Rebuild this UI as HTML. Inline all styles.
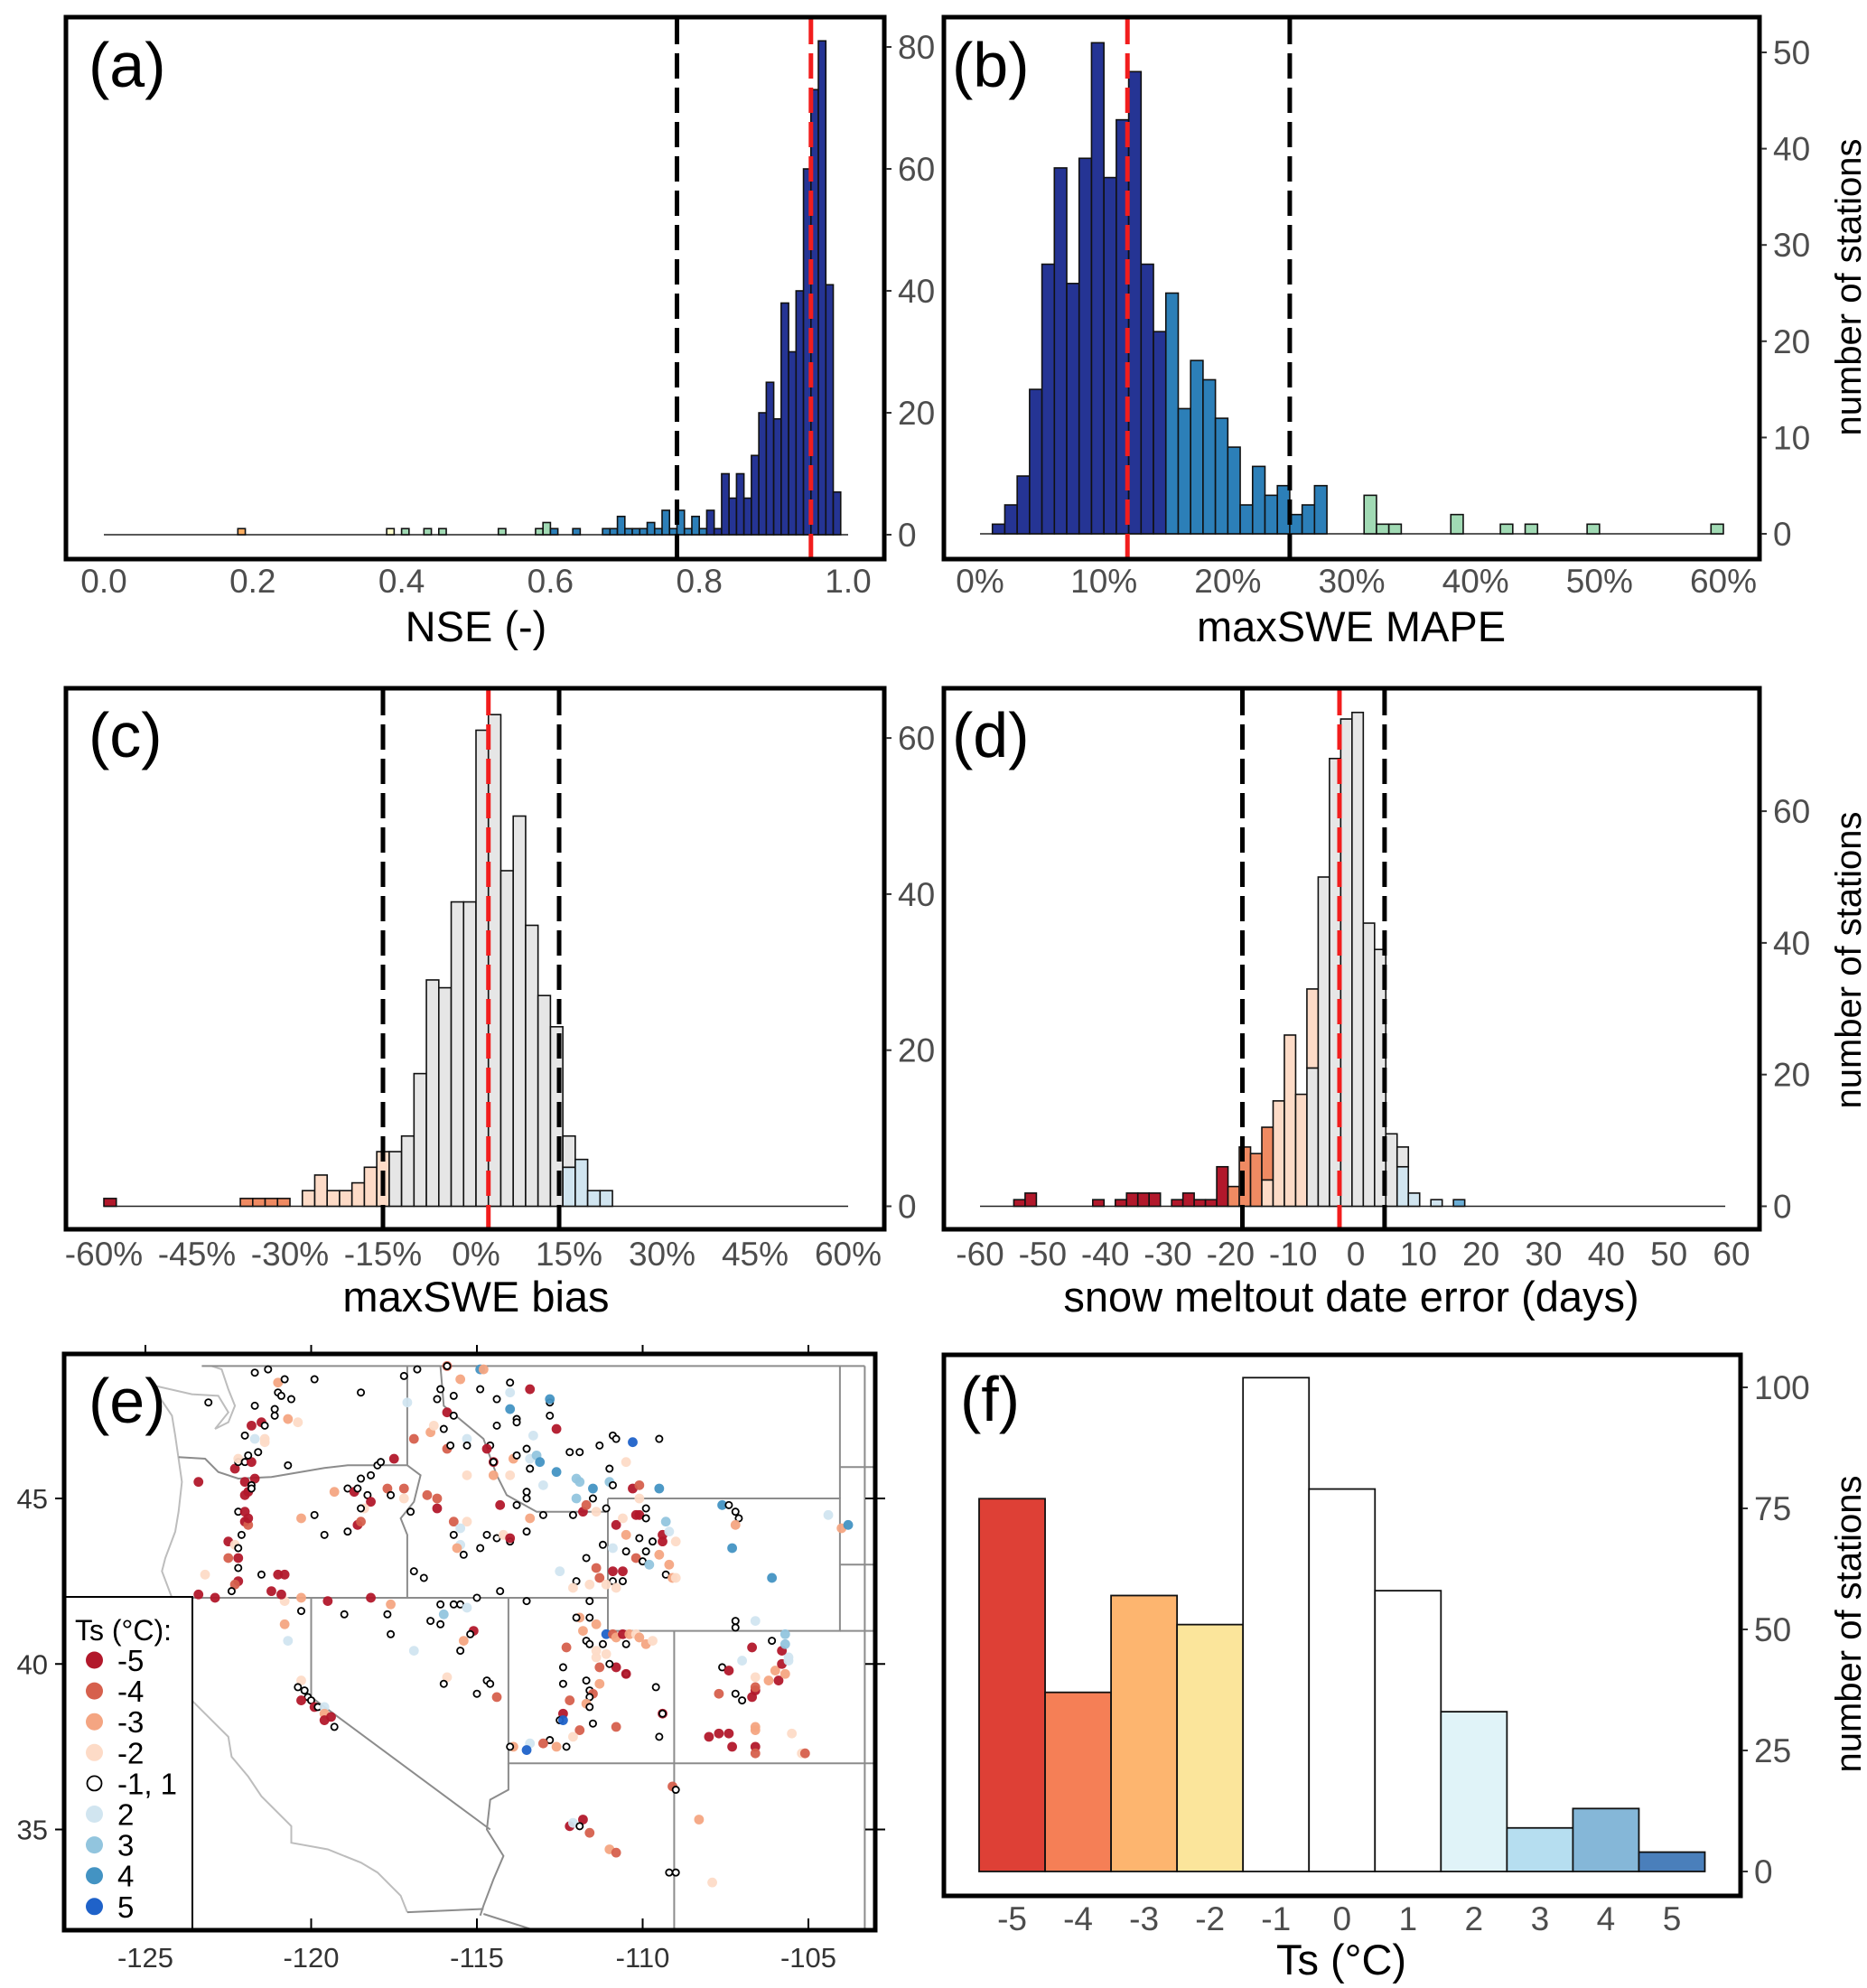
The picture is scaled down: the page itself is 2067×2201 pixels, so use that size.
<!DOCTYPE html>
<html><head><meta charset="utf-8"><title>Snow model evaluation figure</title>
<style>
html,body{margin:0;padding:0;background:#fff;}
svg{display:block;font-family:"Liberation Sans",Arial,sans-serif;}
</style></head>
<body>
<svg id="fig" width="2067" height="2201" viewBox="0 0 2067 2201" xmlns="http://www.w3.org/2000/svg">
<rect x="0" y="0" width="2067" height="2201" fill="#fff"/>
</svg>
<script>
// ---------- DATA ----------
// (a) NSE histogram
const aLeft = [0.18,0.38,0.40,0.43,0.45,0.53,0.58,0.59,0.60,0.63,
 0.67,0.68,0.69,0.70,0.71,0.72,0.73,0.74,0.75,0.76,0.77,0.78,0.79,0.80,
 0.81,0.82,0.83,0.84,0.85,0.86,0.87,0.88,0.89,0.90,0.91,0.92,0.93,0.94,0.95,0.96,0.97,0.98];
const aCounts = [1,1,1,1,1,1,1,2,1,1,
 1,1,3,1,1,1,2,1,4,1,4,1,3,1,
 4,1,10,6,10,6,13,20,25,19,38,30,40,60,73,81,41,7];
const aClass = ['o','y','g','g','g','g','g','g','b','b',
 'b','b','b','b','b','b','b','b','b','b','b','b','b','b',
 'n','n','n','n','n','n','n','n','n','n','n','n','n','n','n','n','n','n'];
const aXTicks = [0,0.2,0.4,0.6,0.8,1.0];
const aXLabels = ['0.0','0.2','0.4','0.6','0.8','1.0'];
const aYTicks = [0,20,40,60,80];
const aLines = [0.77, 0.95];

// (b) maxSWE MAPE histogram (%)
const bLeft = [1,2,3,4,5,6,7,8,9,10,11,12,13,14,15,16,17,18,19,20,21,22,23,24,25,26,27,31,32,33,38,42,44,49,59];
const bCounts = [1,3,6,15,28,38,26,39,51,37,43,48,28,21,25,13,18,16,12,9,3,7,4,5,2,3,5,4,1,1,2,1,1,1,1];
const bClass = ['n','n','n','n','n','n','n','n','n','n','n','n','n','n','b','b','b','b','b','b','b','b','b','b','b','b','b','g','g','g','g','g','g','g','g'];
const bXTicks = [0,10,20,30,40,50,60];
const bXLabels = ['0%','10%','20%','30%','40%','50%','60%'];
const bYTicks = [0,10,20,30,40,50];
const bLines = [25, 11.9];

// (c) maxSWE bias histogram (%)
const cCenters = [-59,-37,-35,-33,-31,-27,-25,-23,-21,-19,-17,-15,-13,-11,-9,-7,-5,-3,-1,1,3,5,7,9,11,13,15,17,19,21];
const cCounts = [1,1,1,1,1,2,4,2,2,3,5,7,7,9,17,29,28,39,39,61,63,43,50,36,27,23,9,6,2,2];
const cClass = ['r','s','s','s','s','p','p','p','p','p','p','p','w','w','w','w','w','w','w','w','w','w','w','w','w','w','w','l','l','l'];
const cLower = [0,0,0,0,0,0,0,0,0,0,0,0,0,0,0,0,0,0,0,0,0,0,0,0,0,0,5,0,0,0];
const cLowerClass = ['','','','','','','','','','','','','','','','','','','','','','','','','','','l','','',''];
const cXTicks = [-60,-45,-30,-15,0,15,30,45,60];
const cXLabels = ['-60%','-45%','-30%','-15%','0%','15%','30%','45%','60%'];
const cYTicks = [0,20,40,60];
const cLines = [-15, 13.4, 2.0];

// (d) snow meltout date error (days)
const dCenters = [-53.7,-51.9,-41.1,-37.5,-35.7,-33.9,-32.1,-28.5,-26.7,-24.9,-23.1,-21.3,-19.5,-17.7,-15.9,-14.1,-12.3,-10.5,-8.7,-6.9,-5.1,-3.3,-1.5,0.3,2.1,3.9,5.7,7.5,9.3,12.9,16.5];
const dCounts = [1,2,1,1,2,2,2,1,2,1,1,6,3,9,8,12,16,26,17,33,50,68,74,75,43,39,11,9,2,1,1];
const dClass = ['r','r','r','r','r','r','r','r','r','r','r','r','s','s','s','s','p','p','p','p','w','w','w','w','w','w','w','w','l','l','m'];
const dLower = [0,0,0,0,0,0,0,0,0,0,0,0,0,0,0,4,0,0,0,21,0,0,0,0,0,0,0,6,0,0,0];
const dLowerClass = ['','','','','','','','','','','','','','','','p','','','','w','','','','','','','','l','','',''];
const dXTicks = [-60,-50,-40,-30,-20,-10,0,10,20,30,40,50,60];
const dXLabels = ['-60','-50','-40','-30','-20','-10','0','10','20','30','40','50','60'];
const dYTicks = [0,20,40,60];
const dLines = [-18.1, 4.6, -2.6];

// (f) Ts histogram
const fCats = [-5,-4,-3,-2,-1,0,1,2,3,4,5];
const fCounts = [77,37,57,51,102,79,58,33,9,13,4];
const fYTicks = [0,25,50,75,100];

// (e) station map: lon, lat, Ts class
const stLon = [-123.4,-123.4,-122.9,-123.2,-122.5,-122.5,-122.3,-122.2,-122.2,-122.3,-122.4,-122.2,-122.2,-122.1,-122.0,-121.9,-122.2,-122.0,-121.9,-122.0,
-121.9,-122.0,-121.7,-121.8,-121.8,-122.3,-122.2,-122.2,-122.0,-121.8,-121.9,-121.6,-122.0,-121.8,-121.5,-121.4,-121.7,-121.4,-121.4,-121.1,
-121.1,-120.7,-120.4,-121.0,-120.8,-121.0,-120.9,-120.6,-121.7,-121.3,-119.9,-118.5,-123.1,-121.7,-120.7,-120.8,-121.2,-120.9,-121.5,-121.0,
-120.8,-120.3,-119.5,-118.2,-120.8,-120.7,-120.3,-119.0,-117.6,-117.7,-117.6,-116.9,-120.3,-119.9,-119.6,-119.3,-118.9,-118.7,-118.6,-118.5,
-118.9,-118.6,-118.5,-118.2,-118.0,-117.9,-117.5,-118.3,-118.2,-118.4,-118.5,-117.7,-117.2,-117.2,-117.6,-117.0,-116.9,-116.6,-116.5,-116.2,
-116.2,-116.9,-116.4,-116.3,-116.0,-115.9,-115.8,-117.1,-116.8,-117.2,-116.2,-116.1,-115.9,-115.9,-115.5,-115.7,-115.9,-115.7,-115.3,-115.3,
-114.9,-114.8,-114.9,-114.4,-114.0,-114.0,-114.0,-113.8,-113.8,-114.4,-114.6,-114.7,-114.5,-114.5,-114.5,-115.3,-114.3,-114.0,-113.9,-113.8,
-113.5,-113.4,-113.4,-113.2,-113.1,-113.3,-112.8,-112.8,-112.8,-113.4,-112.6,-112.6,-113.0,-112.0,-111.9,-111.5,-112.2,-111.9,-111.3,-110.9,
-110.8,-110.3,-109.5,-110.5,-111.0,-111.0,-110.9,-110.3,-110.1,-109.5,-110.1,-111.5,-112.0,-111.8,-112.1,-111.7,-111.4,-111.1,-110.8,-110.6,
-110.2,-110.1,-109.9,-109.9,-110.5,-110.1,-109.7,-109.4,-109.4,-109.0,-109.3,-109.2,-111.2,-110.9,-110.5,-110.2,-110.0,-109.9,-109.5,-109.2,
-109.8,-109.3,-109.1,-109.0,-111.7,-111.4,-110.9,-110.6,-110.9,-110.6,-111.3,-112.0,-112.1,-111.6,-111.1,-110.8,-111.6,-112.5,-107.6,-107.4,
-107.2,-107.1,-107.2,-107.3,-106.1,-104.4,-104.0,-103.8,-113.4,-113.5,-113.5,-113.5,-113.0,-113.8,-115.7,-115.3,-115.5,-115.7,-115.5,-115.6,
-115.4,-114.9,-114.7,-114.4,-114.2,-114.0,-114.0,-114.3,-115.0,-113.5,-116.1,-116.0,-116.1,-115.7,-115.5,-115.3,-116.4,-115.1,-115.2,-115.4,
-115.5,-115.9,-116.0,-115.0,-114.7,-114.6,-114.4,-120.3,-120.4,-120.2,-120.1,-120.3,-120.0,-119.9,-119.8,-119.6,-119.6,-119.6,-119.4,-119.3,
-111.9,-112.0,-111.6,-111.4,-111.8,-111.1,-110.9,-110.8,-110.6,-110.5,-110.4,-110.2,-110.1,-109.9,-109.7,-111.7,-111.6,-111.4,-111.2,-112.3,
-111.4,-111.1,-111.3,-110.8,-111.0,-110.5,-110.5,-112.4,-112.4,-111.7,-111.3,-111.6,-111.5,-111.6,-111.7,-111.6,-112.2,-112.4,-112.5,-112.4,
-111.9,-111.5,-110.8,-112.1,-112.8,-113.0,-112.6,-112.3,-113.9,-114.0,-113.4,-113.5,-109.6,-109.4,-109.4,-109.5,-108.0,-107.7,-107.4,-107.3,
-107.6,-107.4,-107.7,-107.2,-107.0,-106.7,-106.6,-106.6,-106.6,-106.6,-106.6,-106.6,-107.2,-107.2,-106.6,-106.7,-107.0,-106.6,-106.2,-106.0,
-105.9,-105.8,-105.7,-105.6,-105.6,-105.8,-105.7,-105.7,-106.1,-105.5,-105.2,-105.1,-109.1,-109.0,-112.2,-112.1,-111.8,-111.9,-111.6,-111.0,
-110.8,-108.3,-109.2,-109.0,-107.9];
const stLat = [45.5,42.1,42.0,42.7,43.7,43.2,43.6,43.2,42.5,42.4,42.2,42.9,43.5,43.9,44.3,44.2,44.6,44.6,44.4,45.1,
45.2,45.5,45.6,45.4,45.3,45.9,46.1,46.2,46.1,46.1,46.3,46.4,46.9,47.2,47.3,47.2,46.8,46.8,46.7,47.5,
47.7,47.4,47.3,48.5,48.6,48.2,48.1,48.0,48.8,48.9,48.6,48.2,47.9,47.8,46.0,41.9,42.2,42.1,42.7,42.7,
42.7,42.0,41.9,42.0,41.2,40.7,41.6,41.5,41.8,41.5,40.9,40.4,44.4,44.5,43.9,45.2,45.3,45.2,44.2,44.3,
44.0,45.3,45.6,45.7,46.0,46.1,46.2,45.1,44.9,44.7,44.7,45.3,45.3,45.0,45.1,44.6,42.8,42.6,45.1,45.0,
44.7,46.8,47.0,47.2,47.1,46.5,46.6,47.9,48.9,48.7,48.0,48.3,49.0,49.0,48.6,48.1,47.6,47.5,46.8,46.6,
48.9,48.9,48.3,48.0,48.5,48.2,47.7,47.4,47.3,47.2,46.6,46.5,46.1,46.1,45.7,45.7,44.8,45.7,46.2,46.3,
46.5,45.9,46.2,46.3,46.1,46.9,47.9,48.0,47.5,48.3,47.1,45.8,45.4,45.6,45.5,45.3,46.4,46.4,46.6,46.9,
46.8,46.7,46.8,46.1,45.9,45.5,45.4,45.3,45.4,45.3,45.0,45.0,45.0,44.6,44.5,44.8,44.6,44.7,44.2,44.4,
44.5,44.5,44.7,44.4,43.9,43.8,43.7,43.9,43.7,43.7,44.3,44.0,43.6,43.5,43.4,43.2,43.1,43.4,43.3,43.0,
43.0,42.7,42.6,42.6,43.2,42.9,42.8,42.8,42.5,42.5,42.6,42.5,42.3,42.4,42.4,42.3,41.9,42.8,44.8,44.8,
44.6,44.4,44.2,43.5,42.6,44.5,44.1,44.2,44.4,44.0,45.2,45.0,44.5,44.8,44.3,44.3,44.1,43.9,43.6,43.5,
43.3,43.5,43.9,43.8,43.9,43.7,43.8,42.2,42.0,41.9,41.8,41.5,41.2,41.8,41.8,41.7,41.3,41.0,40.9,40.7,
40.4,39.6,39.4,39.1,39.5,39.4,39.0,39.5,39.3,39.2,39.0,38.9,38.9,38.7,38.7,38.7,38.5,38.3,38.4,38.1,
41.4,41.4,41.4,41.2,41.0,40.9,40.9,40.8,40.9,40.6,40.9,40.9,40.8,40.6,40.7,40.7,40.6,40.4,40.6,40.5,
40.2,40.3,39.9,39.9,40.0,39.7,39.7,39.9,39.4,39.5,39.4,39.2,39.1,39.0,38.8,38.7,38.9,38.5,38.3,38.3,
38.0,38.2,38.1,37.8,37.7,37.6,37.5,37.5,37.5,37.5,37.6,37.4,39.3,38.5,38.5,37.8,37.8,37.9,37.9,37.5,
39.9,39.8,39.1,39.1,38.9,39.0,39.2,39.3,38.1,38.0,37.5,37.3,41.1,41.3,41.3,40.5,40.1,39.6,39.5,39.8,
39.5,40.0,39.7,40.1,40.2,40.4,40.6,40.9,40.7,37.9,37.3,37.3,36.3,36.2,35.1,35.2,35.3,35.1,34.9,34.4,
34.3,35.3,33.7,33.7,33.4];
const stTs = [-5,-5,-5,-2,-5,-4,-2,-5,-5,-4,0,0,0,0,-5,-4,0,-5,-5,-5,
-5,-5,-5,0,0,-5,0,-2,0,-5,0,0,0,-5,-5,0,2,-2,-2,0,
0,-3,-2,-3,0,0,0,0,0,0,0,0,0,0,0,-2,-5,-5,0,-5,
-5,-3,-5,-5,-3,2,0,0,-3,0,0,2,-3,0,0,-3,0,-5,-5,-4,
0,0,0,0,0,0,-5,0,-5,-2,0,-4,-4,-2,0,0,0,0,-4,-4,
-5,-4,-3,-2,0,-4,0,2,0,0,0,0,-4,0,-3,0,-5,0,2,0,
4,-3,0,0,0,2,4,0,0,0,0,-5,-5,0,-3,-2,-5,-2,-3,0,
0,0,2,3,4,2,0,4,0,-5,-5,4,2,3,3,4,0,0,0,0,
0,5,0,-2,0,3,0,-5,-4,4,-2,0,3,-5,0,-4,-2,0,-5,-2,
-5,-5,0,0,-3,0,0,-5,-5,-2,3,2,0,2,0,-4,0,0,-3,-3,
3,0,-3,-2,0,-4,-5,-5,0,0,-4,0,-2,-2,-2,-2,0,2,4,0,
0,0,-3,4,4,2,-3,4,-3,0,0,0,0,0,-4,-2,2,0,2,-3,
0,0,0,0,-2,0,-5,0,0,0,0,3,0,0,0,2,0,-5,0,-3,
0,-2,0,0,0,0,-4,-2,0,0,0,-5,0,-5,0,2,-3,-5,-5,0,
-3,0,0,-3,-3,5,-4,-3,-5,0,-3,-2,-3,-3,-2,0,0,-2,0,-4,
-2,-2,-4,-5,0,0,-5,0,0,0,-3,0,-4,0,-3,0,-4,-5,0,5,
-4,0,-4,-2,0,-4,-3,0,-3,0,2,5,0,-5,0,0,-5,-5,-5,-5,
0,-5,-4,0,0,-5,-5,-4,-3,-3,-5,-4,0,0,2,-5,2,-2,-3,-3,
-5,-5,-3,2,2,-5,3,3,0,-2,-2,-4,-4,0,-5,2,-5,0,-4,-3,
-4,-3,0,0,-2];
const eLonTicks = [-125,-120,-115,-110,-105];
const eLatTicks = [45,40,35];
const legendTs = [-5,-4,-3,-2,0,2,3,4,5];
const legendLabels = ['-5','-4','-3','-2','-1, 1','2','3','4','5'];

// ---------- RENDER ----------
const NS = 'http://www.w3.org/2000/svg';
const svg = document.getElementById('fig');
function el(tag, attrs, parent, text){
  const e = document.createElementNS(NS, tag);
  for (const k in attrs) e.setAttribute(k, attrs[k]);
  if (text !== undefined) e.textContent = text;
  (parent || svg).appendChild(e);
  return e;
}
const histPal = {o:'#fdae61', y:'#ffffcc', g:'#a1dab4', b:'#2c7fb8', n:'#253494',
  r:'#b2182b', s:'#ef8a62', p:'#fddbc7', w:'#e6e6e6', l:'#d1e5f0', m:'#6baed6'};
const tsPal = {'-5':'#b2182b','-4':'#d6604d','-3':'#f4a582','-2':'#fddbc7','0':'#ffffff','2':'#d1e5f0','3':'#92c5de','4':'#4393c3','5':'#1f62c9'};
const fPal = ['#de4036','#f57f56','#fdb56f','#fbe59b','#ffffff','#ffffff','#ffffff','#e0f3f8','#b6def0','#85b7d8','#4a7fbb'];
const TICKFONT = 37, TITLEFONT = 47, LABFONT = 70;

function makePanel(cfg){
  const g = el('g', {});
  
  
  const sx = v => cfg.px0 + (v - cfg.v0) / (cfg.v1 - cfg.v0) * (cfg.px1 - cfg.px0);
  const sy = c => cfg.yb - c * cfg.ppu;
  return {g, sx, sy, yb: cfg.yb};
}
function frame(g, x0, y0, x1, y1, name){
  const r = el('rect', {x:x0, y:y0, width:x1-x0, height:y1-y0, fill:'none', stroke:'#000', 'stroke-width':5}, g);
  
  
}
function panelLabel(g, x, y, t){
  const e = el('text', {x:x, y:y, 'font-size':LABFONT, fill:'#000'}, g, t);
  
  
}
function rightAxis(g, P, ticks, xR, title, titleY){
  const ax = el('g', {}, g);
  
  
  ticks.forEach(t => {
    const y = P.sy(t);
    el('line', {x1:xR+2, x2:xR+8, y1:y, y2:y, stroke:'#333', 'stroke-width':2}, ax);
    const tx = el('text', {x:xR+15, y:y+13, 'font-size':TICKFONT, fill:'#4d4d4d'}, ax, String(t));
    
    
  });
  if (title){
    const tt = el('text', {x:0, y:0, 'font-size':40, fill:'#000', 'text-anchor':'middle',
      transform:'translate(2060,'+titleY+') rotate(-90)'}, ax, title);
    
    
  }
}
function bottomAxis(g, P, ticks, labels, yLab, title, titleX, titleY){
  const ax = el('g', {}, g);
  
  
  ticks.forEach((t, i) => {
    const tx = el('text', {x:P.sx(t), y:yLab, 'font-size':TICKFONT, fill:'#4d4d4d', 'text-anchor':'middle'}, ax, labels[i]);
    
    
  });
  const tt = el('text', {x:titleX, y:titleY, 'font-size':TITLEFONT, fill:'#000', 'text-anchor':'middle'}, ax, title);
  
  
}
function baseline(g, P, v0, v1){
  const l = el('line', {x1:P.sx(v0), x2:P.sx(v1), y1:P.yb, y2:P.yb, stroke:'#222', 'stroke-width':1.6}, g);
  
  
}
function bars(g, P, lefts, width, counts, classes, lower, lowerClass){
  const bg = el('g', {}, g);
  
  
  lefts.forEach((lv, i) => {
    const x0 = P.sx(lv), x1 = P.sx(lv + width);
    const low = lower ? lower[i] : 0;
    if (low > 0){
      const r2 = el('rect', {x:x0, y:P.sy(low), width:x1-x0, height:P.sy(0)-P.sy(low),
        fill:histPal[lowerClass[i]], stroke:'#111', 'stroke-width':1.6}, bg);
      
      
    }
    const r = el('rect', {x:x0, y:P.sy(counts[i]), width:x1-x0, height:P.sy(low)-P.sy(counts[i]),
      fill:histPal[classes[i]], stroke:'#111', 'stroke-width':1.6}, bg);
    
    
  });
}
function vline(g, x, y0, y1, color, name){
  const l = el('line', {x1:x, x2:x, y1:y0, y2:y1, stroke:color, 'stroke-width':5, 'stroke-dasharray':'28,10'}, g);
  
  
}

// ---- (a)
(function(){
  const P = makePanel({name:'panel-a-nse', px0:115, px1:939, v0:0, v1:1, yb:592, ppu:6.75});
  baseline(P.g, P, 0, 1);
  bars(P.g, P, aLeft, 0.01, aCounts, aClass);
  vline(P.g, P.sx(aLines[0]), 21, 617, '#000', 'threshold-line');
  vline(P.g, P.sx(aLines[1]), 21, 617, '#f21d1d', 'median-line');
  frame(P.g, 73, 19, 979, 619, 'plot-frame');
  rightAxis(P.g, P, aYTicks, 979);
  bottomAxis(P.g, P, aXTicks, aXLabels, 656, 'NSE (-)', 527, 710);
  panelLabel(P.g, 98, 96, '(a)');
})();
// ---- (b)
(function(){
  const P = makePanel({name:'panel-b-mape', px0:1085, px1:1908, v0:0, v1:60, yb:591, ppu:10.66});
  baseline(P.g, P, 0, 60);
  bars(P.g, P, bLeft, 1, bCounts, bClass);
  vline(P.g, P.sx(bLines[0]), 21, 617, '#000', 'threshold-line');
  vline(P.g, P.sx(bLines[1]), 21, 617, '#f21d1d', 'median-line');
  frame(P.g, 1045, 19, 1948, 619, 'plot-frame');
  rightAxis(P.g, P, bYTicks, 1948, 'number of stations', 318);
  bottomAxis(P.g, P, bXTicks, bXLabels, 656, 'maxSWE MAPE', 1496, 710);
  panelLabel(P.g, 1054, 96, '(b)');
})();
// ---- (c)
(function(){
  const P = makePanel({name:'panel-c-bias', px0:115, px1:939, v0:-60, v1:60, yb:1335.5, ppu:8.64});
  baseline(P.g, P, -60, 60);
  bars(P.g, P, cCenters.map(c => c - 1), 2, cCounts, cClass, cLower, cLowerClass);
  vline(P.g, P.sx(cLines[0]), 764, 1359, '#000', 'lower-threshold-line');
  vline(P.g, P.sx(cLines[1]), 764, 1359, '#000', 'upper-threshold-line');
  vline(P.g, P.sx(cLines[2]), 764, 1359, '#f21d1d', 'median-line');
  frame(P.g, 73, 762, 979, 1361, 'plot-frame');
  rightAxis(P.g, P, cYTicks, 979);
  bottomAxis(P.g, P, cXTicks, cXLabels, 1401, 'maxSWE bias', 527, 1452);
  panelLabel(P.g, 98, 838, '(c)');
})();
// ---- (d)
(function(){
  const P = makePanel({name:'panel-d-meltout', px0:1085, px1:1917, v0:-60, v1:60, yb:1335.5, ppu:7.29});
  baseline(P.g, P, -60, 59);
  bars(P.g, P, dCenters.map(c => c - 0.9), 1.8, dCounts, dClass, dLower, dLowerClass);
  vline(P.g, P.sx(dLines[0]), 764, 1359, '#000', 'lower-threshold-line');
  vline(P.g, P.sx(dLines[1]), 764, 1359, '#000', 'upper-threshold-line');
  vline(P.g, P.sx(dLines[2]), 764, 1359, '#f21d1d', 'median-line');
  frame(P.g, 1045, 762, 1948, 1361, 'plot-frame');
  rightAxis(P.g, P, dYTicks, 1948, 'number of stations', 1063);
  bottomAxis(P.g, P, dXTicks, dXLabels, 1401, 'snow meltout date error (days)', 1496, 1452);
  panelLabel(P.g, 1054, 838, '(d)');
})();
// ---- (f)
(function(){
  const P = makePanel({name:'panel-f-ts-histogram', px0:1084, px1:1887.5, v0:-5.5, v1:5.5, yb:2072, ppu:5.36});
  const bg = el('g', {}, P.g);
  
  
  fCats.forEach((c, i) => {
    const x0 = P.sx(c - 0.5), x1 = P.sx(c + 0.5);
    const yTop = P.sy(fCounts[i]);
    const r = el('rect', {x:x0, y:yTop, width:x1-x0, height:P.sy(0)-yTop, fill:fPal[i], stroke:'#111', 'stroke-width':1.8}, bg);
    
    
  });
  frame(P.g, 1045, 1500, 1927, 2099, 'plot-frame');
  rightAxis(P.g, P, fYTicks, 1927, 'number of stations', 1798);
  bottomAxis(P.g, P, fCats, fCats.map(String), 2137, 'Ts (°C)', 1485, 2186);
  panelLabel(P.g, 1063, 1573, '(f)');
})();
P_e();
function P_e(){
  const g = el('g', {});
  
  
  const X0 = 71, Y0 = 1499, X1 = 969, Y1 = 2137;
  const mx = lon => 161 + (lon + 125) * 36.7;
  const my = lat => 1659 - (lat - 45) * 36.65;
  const defs = el('defs', {}, g);
  const cp = el('clipPath', {id:'mapclip'}, defs);
  el('rect', {x:X0, y:Y0, width:X1-X0, height:Y1-Y0}, cp);
  const mg = el('g', {'clip-path':'url(#mapclip)'}, g);
  const coast = [[-124.7,48.4],[-124.6,48.1],[-124.2,47.5],[-124.1,46.9],[-124.0,46.2],[-123.9,45.5],[-124.0,44.6],[-124.1,44.0],[-124.4,43.2],[-124.5,42.8],[-124.2,42.0],[-124.1,41.3],[-124.2,40.5],[-123.8,39.8],[-123.7,39.0],[-123.0,38.3],[-122.5,37.8],[-122.4,37.2],[-121.9,36.6],[-121.5,36.0],[-120.6,35.1],[-120.6,34.6],[-119.5,34.4],[-118.5,34.0],[-118.0,33.7],[-117.3,33.0],[-117.1,32.5]];
  const sound = [[-124.7,48.4],[-123.6,48.15],[-122.8,48.1],[-122.5,47.6],[-122.9,47.1],[-122.5,47.3],[-122.3,47.8],[-122.5,48.3],[-122.7,48.9],[-123.0,49.0]];
  const borders = [
    [[-123.3,49],[-103.3,49]],
    [[-124.0,46.25],[-123.2,46.2],[-122.8,45.8],[-122.2,45.6],[-121.2,45.65],[-119.6,45.92],[-118.9,46.0],[-117.1,46.0]],
    [[-117.1,49],[-117.1,46.0],[-116.7,45.7],[-116.9,44.9],[-117.3,44.4],[-117.1,43.9],[-117.1,42.0]],
    [[-124.3,42.0],[-111.05,42.0]],
    [[-116.1,49],[-116.0,47.8],[-114.8,46.8],[-114.4,45.7],[-114.1,45.1],[-113.2,44.6],[-112.3,44.6],[-111.1,44.6]],
    [[-111.05,45],[-104.05,45],[-104.05,41],[-111.05,41],[-111.05,45]],
    [[-114.05,42],[-114.05,37],[-102,37]],
    [[-109.05,41],[-109.05,31.0]],
    [[-104.05,41],[-102,41]],
    [[-120,42],[-120,39],[-114.6,35.0]],
    [[-114.05,37],[-114.05,36.2],[-114.6,35.9],[-114.7,35.0],[-114.2,34.2],[-114.5,33.5],[-114.8,32.7],[-114.9,32.4]],
    [[-117.1,32.5],[-114.8,32.6]],
    [[-114.8,32.45],[-113.4,32.0]],
    [[-104.05,49],[-104.05,45]],
    [[-104.05,45.95],[-102,45.95]],
    [[-104.05,43.0],[-102,43.0]],
    [[-103.3,49],[-103.3,30]]
  ];
  const pth = pts => pts.map((p, i) => (i ? 'L' : 'M') + mx(p[0]).toFixed(1) + ' ' + my(p[1]).toFixed(1)).join(' ');
  const c1 = el('path', {d:pth(coast), fill:'none', stroke:'#bdbdbd', 'stroke-width':2}, mg);
  
  
  const c2 = el('path', {d:pth(sound), fill:'none', stroke:'#bdbdbd', 'stroke-width':2}, mg);
  
  
  borders.forEach(b => {
    const p = el('path', {d:pth(b), fill:'none', stroke:'#8c8c8c', 'stroke-width':2}, mg);
    
    
  });
  const pg = el('g', {}, mg);
  
  
  stLon.forEach((lon, i) => {
    const t = stTs[i];
    let c;
    if (t === 0) c = el('circle', {cx:mx(lon), cy:my(stLat[i]), r:3.6, fill:'#fff', stroke:'#000', 'stroke-width':1.8}, pg);
    else c = el('circle', {cx:mx(lon), cy:my(stLat[i]), r:5.4, fill:tsPal[String(t)], 'fill-opacity':0.95}, pg);
    
    
  });
  eLonTicks.forEach(l => {
    const x = mx(l);
    el('line', {x1:x, x2:x, y1:Y0-10, y2:Y0, stroke:'#000', 'stroke-width':2}, g);
    el('line', {x1:x, x2:x, y1:Y1-13, y2:Y1, stroke:'#000', 'stroke-width':2}, g);
    const t = el('text', {x:x, y:2178, 'font-size':31, fill:'#333', 'text-anchor':'middle'}, g, String(l));
    
    
  });
  eLatTicks.forEach(l => {
    const y = my(l);
    el('line', {x1:X1-11, x2:X1+11, y1:y, y2:y, stroke:'#000', 'stroke-width':2}, g);
    el('line', {x1:X0-10, x2:X0, y1:y, y2:y, stroke:'#000', 'stroke-width':2}, g);
    const t = el('text', {x:53, y:y+11, 'font-size':31, fill:'#333', 'text-anchor':'end'}, g, String(l));
    
    
  });
  const lg = el('g', {}, g);
  
  
  el('rect', {x:X0, y:1768, width:142, height:Y1-1768, fill:'#fff', stroke:'#000', 'stroke-width':2}, lg);
  const lt = el('text', {x:83, y:1816, 'font-size':32, fill:'#000'}, lg, 'Ts (°C):');
  
  
  legendTs.forEach((t, i) => {
    const y = 1838 + i * 34.1;
    const e = el('g', {}, lg);
    
    
    if (t === 0) el('circle', {cx:104.5, cy:y, r:8, fill:'#fff', stroke:'#000', 'stroke-width':1.8}, e);
    else el('circle', {cx:104.5, cy:y, r:9.5, fill:tsPal[String(t)]}, e);
    el('text', {x:130, y:y+12, 'font-size':33, fill:'#000'}, e, legendLabels[i]);
  });
  frame(g, X0, Y0, X1, Y1, 'map-frame');
  panelLabel(g, 98, 1575, '(e)');
}
</script>
</body></html>
